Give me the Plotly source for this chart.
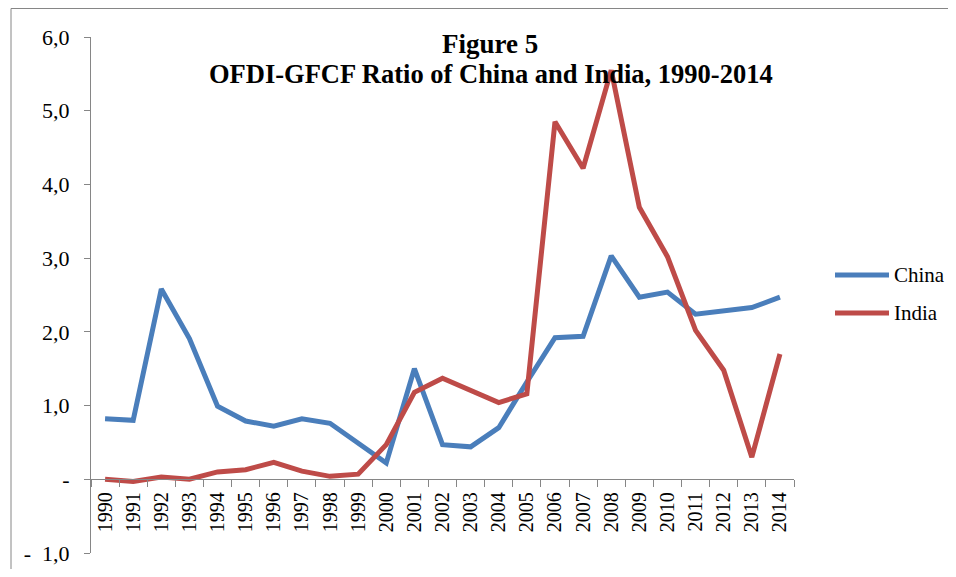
import plotly.graph_objects as go

years = [str(y) for y in range(1990, 2015)]
china = [0.82, 0.80, 2.58, 1.91, 0.99, 0.79, 0.72, 0.82, 0.76, 0.50, 0.22, 1.50, 0.47, 0.44,
         0.70, 1.32, 1.92, 1.94, 3.03, 2.47, 2.54, 2.24, 2.29, 2.33, 2.47]
india = [0.00, -0.03, 0.03, 0.00, 0.10, 0.13, 0.23, 0.11, 0.04, 0.07, 0.47, 1.18, 1.37, 1.20,
         1.04, 1.16, 4.85, 4.22, 5.55, 3.69, 3.02, 2.02, 1.48, 0.30, 1.70]

y_ticks = [-1, 0, 1, 2, 3, 4, 5, 6]
y_labels = ['-  1,0', '-', '1,0', '2,0', '3,0', '4,0', '5,0', '6,0']

FONT = 'Liberation Serif'
GREY = '#868686'
BLUE = '#4A7EBB'
RED = '#BE4B48'

# page body has an 8px margin, so the figure is shrunk to fit the window
PAGE_W, PAGE_H, BODY = 956, 577, 8
FIG_W, FIG_H = PAGE_W - 2 * BODY, PAGE_H - 2 * BODY

# plot area in page pixels
L, R, T, B = 91, 794, 37, 553
W, H = R - L, B - T


def px(x):
    return (x - L) / W


def py(y):
    return (B - y) / H


fig = go.Figure()
fig.add_trace(go.Scatter(x=years, y=china, mode='lines', name='China',
                         line=dict(color=BLUE, width=5)))
fig.add_trace(go.Scatter(x=years, y=india, mode='lines', name='India',
                         line=dict(color=RED, width=5)))

fig.update_layout(
    width=FIG_W, height=FIG_H,
    margin=dict(l=L - BODY, r=FIG_W - (R - BODY), t=T - BODY, b=FIG_H - (B - BODY),
                autoexpand=False),
    paper_bgcolor='white', plot_bgcolor='white',
    showlegend=False,
    font=dict(family=FONT, size=21, color='black'),
    xaxis=dict(type='category', range=[-0.5, len(years) - 0.5],
               anchor='free', position=1 / 7, automargin=False,
               showline=True, linecolor=GREY, linewidth=1,
               ticks='outside', tickson='boundaries', ticklen=7, tickcolor=GREY,
               tickangle=-90, tickfont=dict(size=20), ticklabelstandoff=4,
               showgrid=False, zeroline=False),
    yaxis=dict(range=[-1, 6], domain=[0, 1], tickvals=y_ticks, ticktext=y_labels,
               automargin=False,
               showline=True, linecolor=GREY, linewidth=1,
               ticks='outside', ticklen=6, tickcolor=GREY, ticklabelstandoff=10,
               tickfont=dict(size=22), showgrid=False, zeroline=False),
)

# outer chart border: only the left and top edges are inside the picture
fig.add_shape(type='line', xref='paper', yref='paper',
              x0=px(11), x1=px(11), y0=py(600), y1=py(8.5),
              line=dict(color=GREY, width=1))
fig.add_shape(type='line', xref='paper', yref='paper',
              x0=px(11), x1=px(990), y0=py(8.5), y1=py(8.5),
              line=dict(color=GREY, width=1))

# title
fig.add_annotation(text='<b>Figure 5</b>', xref='paper', yref='paper',
                   x=px(490), y=py(44), xanchor='center', yanchor='middle',
                   showarrow=False, font=dict(size=27, family=FONT))
fig.add_annotation(text='<b>OFDI-GFCF Ratio of China and India, 1990-2014</b>',
                   xref='paper', yref='paper', x=px(491), y=py(74),
                   xanchor='center', yanchor='middle', showarrow=False,
                   font=dict(size=26.5, family=FONT))

# legend
for name, color, yy in [('China', BLUE, 275), ('India', RED, 313)]:
    fig.add_shape(type='line', xref='paper', yref='paper',
                  x0=px(835), x1=px(889), y0=py(yy), y1=py(yy),
                  line=dict(color=color, width=5))
    fig.add_annotation(text=name, xref='paper', yref='paper', x=px(892), y=py(yy),
                       xanchor='left', yanchor='middle', showarrow=False,
                       font=dict(size=21, family=FONT))

fig.write_html("out.html")
